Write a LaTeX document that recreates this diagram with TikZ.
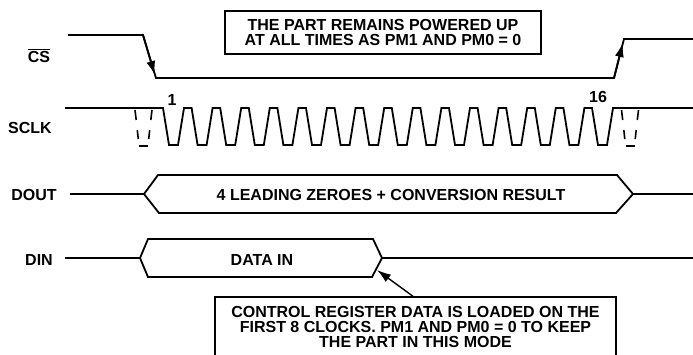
\documentclass[tikz,border=0pt]{standalone}
\usepackage{fontspec}
\newfontfamily\diagfont{Liberation Sans}
\usetikzlibrary{arrows.meta}

\begin{document}
\begin{tikzpicture}[x=1pt,y=-1pt,
    sig/.style={line width=1.8pt},
    frame/.style={draw,line width=1.4pt,inner sep=0pt,align=center},
    txt/.style={font=\diagfont\fontsize{16}{15}\selectfont\bfseries,inner sep=0pt},
    ghost/.style={line width=1.6pt},
    tip/.style={-{Latex[length=14pt,width=9pt]}}]
  \clip (0,0) rectangle (693,354);
  % signal names
  \node[txt] (cs) at (39,55.5) {$\overline{\mbox{CS}}$};
  \node[txt] (sclk) at (30,128) {SCLK};
  \node[txt] (dout) at (34,195) {DOUT};
  \node[txt] (din) at (39,260) {DIN};

  % chip select
  \draw[sig] (68,35) -- (143,35) -- (156,78) -- (614,78) -- (624,39) -- (693,39);
  \draw[sig,tip] (143,35) -- (154.8,75);
  \draw[sig,tip] (614,78) -- (622.8,43);
  \node[txt,frame,minimum width=316pt,minimum height=43pt] (pwrbox) at (383,32.5)
    {THE PART REMAINS POWERED UP\\AT ALL TIMES AS PM1 AND PM0 = 0};

  % serial clock
  \draw[sig] (65,108) foreach \i in {0,...,15} {
      -- ({163+28.6*\i},108) -- ({169+28.6*\i},145)
      -- ({178+28.6*\i},145) -- ({184+28.6*\i},108)} -- (693,108);
  \foreach \xc in {143.5,630} {
    \draw[ghost] (\xc-8.5,110) -- (\xc-7.3,120) (\xc-6.2,130) -- (\xc-5.2,139);
    \draw[ghost] (\xc+8.5,110) -- (\xc+7.3,120) (\xc+6.2,130) -- (\xc+5.2,139);
    \draw[ghost] (\xc-4.5,146) -- (\xc+4.5,146);
  }
  \node[txt] (first) at (172,99.5) {1};
  \node[txt] (last) at (598,97) {16};

  % data out
  \draw[sig] (70,194) -- (144,194) -- (158,175) -- (617,175) -- (633,194) -- (693,194);
  \draw[sig] (144,194) -- (159,213) -- (616,213) -- (633,194);
  \node[txt] (doutval) at (391,194.5) {4 LEADING ZEROES + CONVERSION RESULT};

  % data in
  \draw[sig] (65,258) -- (140,258) -- (148,239) -- (373,239) -- (382,258) -- (693,258);
  \draw[sig] (140,258) -- (148,277) -- (372,277) -- (382,258);
  \node[txt] (dinval) at (262,260) {DATA IN};
  \coordinate (dintip) at (377,270);

  \node[txt,frame,minimum width=401pt,minimum height=60pt] (ctrlbox) at (415.5,327)
    {CONTROL REGISTER DATA IS LOADED ON THE\\FIRST 8 CLOCKS. PM1 AND PM0 = 0 TO KEEP\\THE PART IN THIS MODE};
  \draw[line width=1.4pt,tip] ([xshift=-2.5pt]ctrlbox.north) -- (dintip);
\end{tikzpicture}
\end{document}
